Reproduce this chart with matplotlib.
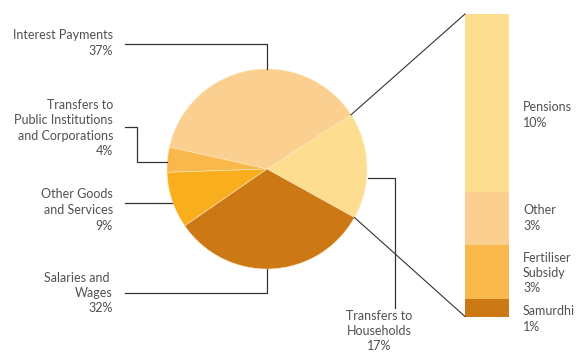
import matplotlib.pyplot as plt
import numpy as np

# expenditure shares (%)
pie_labels = ["Transfers to\nHouseholds\n17%", "Interest Payments\n37%",
              "Transfers to\nPublic Institutions\nand Corporations\n4%",
              "Other Goods\nand Services\n9%", "Salaries and \nWages\n32%"]
pie_values = [17, 37, 4, 9, 32]
pie_colors = ["#FDDE91", "#FBCF8F", "#F9B84B", "#F8AE1D", "#CC7815"]

# breakdown of transfers to households (%)
bar_labels = ["Pensions\n10%", "Other\n3%", "Fertiliser\nSubsidy\n3%", "Samurdhi\n1%"]
bar_values = [10, 3, 3, 1]
bar_colors = ["#FDDE91", "#FBCF90", "#F9B84B", "#CC7915"]

plt.rcParams["font.family"] = ["Lato", "DejaVu Sans"]
text_color = "#505050"
line_color = "#333333"

fig = plt.figure(figsize=(5.79, 3.54), dpi=100)
ax = fig.add_axes([0, 0, 1, 1])

cx, cy, r = 267, 169, 100
wedges, _ = ax.pie(pie_values, colors=pie_colors, startangle=29, counterclock=False,
                   center=(cx, cy), radius=r,
                   wedgeprops=dict(linewidth=0.4, edgecolor="#fde9c0"))

# stacked bar for the households slice
bx, bw, btop, bbot = 487, 44, 14, 316.5
scale = (bbot - btop) / sum(bar_values)
bottom = btop
for v, c in zip(bar_values, bar_colors):
    ax.bar(bx, v * scale, width=bw, bottom=bottom, color=c, linewidth=0)
    bottom += v * scale

# connectors from the households wedge to the bar (y axis is flipped)
hw = wedges[0]
for ang, by in [(hw.theta1, btop), (hw.theta2, bbot)]:
    px = cx + r * np.cos(np.radians(ang))
    py = cy + r * np.sin(np.radians(ang))
    ax.plot([px, bx - bw / 2], [py, by], color=line_color, lw=0.8)

# leader lines
lw = 0.9
ax.plot([125, 267, 267], [44, 44, 69], color=line_color, lw=lw)
ax.plot([125, 137, 137, 167], [127, 127, 162, 162], color=line_color, lw=lw)
ax.plot([125, 172], [203, 203], color=line_color, lw=lw)
ax.plot([125, 267, 267], [293, 293, 269], color=line_color, lw=lw)
ax.plot([368, 395, 395], [178, 178, 308], color=line_color, lw=lw)

fs = 9
ls = 1.35
tkw = dict(fontsize=fs, color=text_color, linespacing=ls)
ax.text(113, 43, pie_labels[1], ha="right", va="center", **tkw)
ax.text(113, 128, pie_labels[2], ha="right", va="center", **tkw)
ax.text(113, 210, pie_labels[3], ha="right", va="center", **tkw)
ax.text(113, 293, pie_labels[4], ha="right", va="center", **tkw)
ax.text(379, 331, pie_labels[0], ha="center", va="center", **tkw)

for lab, y in zip(bar_labels, [115, 218, 273, 319]):
    ax.text(523, y, lab, ha="left", va="center", **tkw)

ax.set_xlim(0, 579)
ax.set_ylim(354, 0)
ax.set_aspect("equal")
ax.axis("off")

fig.savefig("out.png", dpi=100)
